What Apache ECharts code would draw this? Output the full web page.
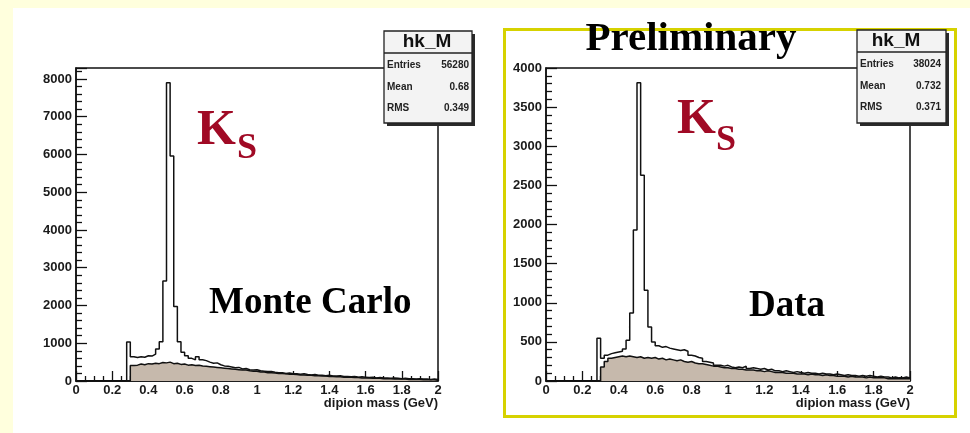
<!DOCTYPE html>
<html><head><meta charset="utf-8">
<script src="https://cdn.jsdelivr.net/npm/echarts@6/dist/echarts.min.js"></script>
<style>
html,body{margin:0;padding:0;background:#FFFFDD;width:970px;height:433px;overflow:hidden;}
#bg{position:absolute;left:13px;top:8px;width:957px;height:425px;background:#FFFFFF;}
#c{position:absolute;left:0;top:0;width:970px;height:433px;}
</style>
</head><body><div id="bg"></div><div id="c"></div>
<script>
// ---- histogram binning (GeV) ----
const binWidth = 0.02;
const firstFilledBin = 0.28;   // first non-empty bin lower edge
const nBins = 100;             // 0 .. 2 GeV

// ---- Monte Carlo panel: counts per bin from 0.28 to 1.98 ----
const mcTotal = [
  1030, 640, 620, 640, 630, 670, 660, 710, 850, 1040,
  2650, 7900, 5960, 1970, 1040, 760, 670, 600, 560, 640,
  560, 540, 500, 470, 480, 430, 400, 390, 370, 350,
  360, 320, 330, 300, 290, 300, 270, 260, 250, 250,
  230, 220, 220, 200, 210, 190, 190, 180, 190, 170,
  160, 170, 150, 150, 140, 150, 130, 130, 140, 120,
  120, 110, 120, 100, 110, 100, 90, 100, 80, 90,
  80, 80, 70, 80, 70, 60, 70, 60, 60, 50,
  60, 50, 50, 40, 50, 40
];
const mcBkg = [
  0, 410, 420, 450, 430, 460, 450, 470, 460, 490,
  480, 500, 460, 470, 440, 450, 420, 430, 410, 420,
  400, 390, 380, 370, 360, 350, 340, 330, 320, 310,
  300, 290, 290, 270, 260, 260, 240, 240, 220, 220,
  210, 200, 200, 190, 180, 180, 170, 160, 160, 150,
  150, 140, 140, 130, 130, 120, 120, 110, 110, 100,
  100, 100, 90, 90, 80, 80, 80, 70, 70, 70,
  60, 60, 60, 50, 50, 50, 50, 40, 40, 40,
  40, 30, 30, 30, 30, 30
];

// ---- Data panel: counts per bin from 0.28 to 1.98 ----
const dataTotal = [
  545, 290, 330, 350, 360, 370, 380, 410, 520, 870,
  1930, 3810, 2630, 1160, 690, 500, 450, 430, 440, 420,
  410, 400, 390, 400, 380, 330, 320, 300, 290, 250,
  240, 230, 200, 200, 190, 200, 180, 170, 180, 170,
  190, 160, 170, 160, 150, 160, 140, 150, 130, 130,
  120, 130, 120, 110, 120, 110, 100, 110, 100, 100,
  90, 100, 90, 90, 80, 90, 80, 70, 80, 70,
  70, 60, 70, 60, 70, 60, 50, 60, 50, 50,
  40, 50, 40, 40, 50, 40
];
const dataBkg = [
  0, 180, 250, 290, 300, 310, 320, 310, 320, 310,
  300, 310, 290, 300, 290, 300, 280, 290, 270, 280,
  270, 260, 270, 250, 240, 250, 230, 220, 220, 210,
  200, 190, 190, 180, 170, 170, 160, 160, 150, 150,
  140, 140, 140, 130, 130, 120, 130, 120, 110, 110,
  110, 100, 100, 100, 90, 90, 90, 80, 90, 80,
  80, 70, 80, 70, 70, 60, 60, 60, 50, 60,
  50, 50, 50, 40, 50, 40, 40, 40, 40, 30,
  30, 30, 30, 30, 30, 30
];

// ---- axis tick values ----
const xTickValues = [0, 0.2, 0.4, 0.6, 0.8, 1, 1.2, 1.4, 1.6, 1.8, 2];
const mcYTicks = [0, 1000, 2000, 3000, 4000, 5000, 6000, 7000, 8000];
const dataYTicks = [0, 500, 1000, 1500, 2000, 2500, 3000, 3500, 4000];
const mcYMax = 8290;
const dataYMax = 4000;

// ---- stats boxes ----
const mcStats = {title: 'hk_M', entries: '56280', mean: '0.68', rms: '0.349'};
const dataStats = {title: 'hk_M', entries: '38024', mean: '0.732', rms: '0.371'};

function toSteps(values) {
  const pts = [];
  const startIdx = Math.round(firstFilledBin / binWidth);
  for (let i = 0; i < startIdx; i++) pts.push([+(i * binWidth).toFixed(2), 0]);
  values.forEach((v, j) => pts.push([+((startIdx + j) * binWidth).toFixed(2), v]));
  pts.push([+(nBins * binWidth).toFixed(2), values[values.length - 1]]);
  return pts;
}

const labelFont = {fontFamily: 'Liberation Sans', fontWeight: 'bold', fontSize: 13, color: '#1a1a1a'};
function xAx(gi) {
  return {
    type: 'value', gridIndex: gi, min: 0, max: 2, interval: 0.2,
    axisLine: {show: true, lineStyle: {color: '#111', width: 1.5}},
    axisTick: {show: true, inside: true, length: 10, lineStyle: {color: '#111', width: 1.3}},
    minorTick: {show: true, splitNumber: 4, length: 5, lineStyle: {color: '#111', width: 1.3}},
    splitLine: {show: false},
    axisLabel: Object.assign({margin: 3, formatter: v => {
      const t = xTickValues.find(tv => Math.abs(tv - v) < 1e-6);
      return t === undefined ? '' : String(t);
    }}, labelFont)
  };
}
function yAx(gi, max, interval, ticks) {
  return {
    type: 'value', gridIndex: gi, min: 0, max: max, interval: interval,
    axisLine: {show: true, lineStyle: {color: '#111', width: 1.5}},
    axisTick: {show: true, inside: true, length: 11, lineStyle: {color: '#111', width: 1.3}},
    minorTick: {show: true, splitNumber: 5, length: 6, lineStyle: {color: '#111', width: 1.3}},
    splitLine: {show: false},
    axisLabel: Object.assign({margin: 4, showMaxLabel: ticks.indexOf(max) >= 0, formatter: v => {
      const t = ticks.find(tv => Math.abs(tv - v) < 1e-6);
      return t === undefined ? '' : String(t);
    }}, labelFont)
  };
}

const histLine = {color: '#111', width: 1.5};
const fillColor = '#C6B9AC';
function bkgSeries(gi, vals) {
  return {type: 'line', xAxisIndex: gi, yAxisIndex: gi, step: 'end', data: toSteps(vals),
    showSymbol: false, symbol: 'none', lineStyle: histLine, areaStyle: {color: fillColor, opacity: 1}, z: 2, silent: true};
}
function totSeries(gi, vals) {
  return {type: 'line', xAxisIndex: gi, yAxisIndex: gi, step: 'end', data: toSteps(vals),
    showSymbol: false, symbol: 'none', lineStyle: histLine, z: 3, silent: true};
}

function statsBox(x, y, w, h, titleCx, rightX, s) {
  const smallFont = 'bold 10px "Liberation Sans"';
  return {
    type: 'group', z: 100, children: [
      {type: 'rect', shape: {x: x + 3, y: y + 3, width: w, height: h}, style: {fill: '#2a2a2a'}, z: 100},
      {type: 'rect', shape: {x: x, y: y, width: w, height: h}, style: {fill: '#F3F3F3', stroke: '#222', lineWidth: 1.3}, z: 101},
      {type: 'line', shape: {x1: x, y1: y + 22, x2: x + w, y2: y + 22}, style: {stroke: '#222', lineWidth: 1.5}, z: 102},
      {type: 'text', x: titleCx, y: y + 11, z: 103, style: {text: s.title, font: 'bold 19px "Liberation Sans"', fill: '#111', align: 'center', verticalAlign: 'middle'}},
      {type: 'text', x: x + 3, y: y + 34, z: 103, style: {text: 'Entries', font: smallFont, fill: '#222', align: 'left', verticalAlign: 'middle'}},
      {type: 'text', x: rightX, y: y + 34, z: 103, style: {text: s.entries, font: smallFont, fill: '#222', align: 'right', verticalAlign: 'middle'}},
      {type: 'text', x: x + 3, y: y + 56, z: 103, style: {text: 'Mean', font: smallFont, fill: '#222', align: 'left', verticalAlign: 'middle'}},
      {type: 'text', x: rightX, y: y + 56, z: 103, style: {text: s.mean, font: smallFont, fill: '#222', align: 'right', verticalAlign: 'middle'}},
      {type: 'text', x: x + 3, y: y + 77, z: 103, style: {text: 'RMS', font: smallFont, fill: '#222', align: 'left', verticalAlign: 'middle'}},
      {type: 'text', x: rightX, y: y + 77, z: 103, style: {text: s.rms, font: smallFont, fill: '#222', align: 'right', verticalAlign: 'middle'}}
    ]
  };
}

const serifBold = '"Liberation Serif", "Times New Roman", serif';
const ksColor = '#A00A25';
function txt(x, y, text, size, color, align) {
  return {type: 'text', x: x, y: y, z: 110, style: {text: text, font: 'bold ' + size + 'px ' + serifBold, fill: color, align: align || 'left', verticalAlign: 'middle'}};
}
function axisTitle(rx, y) {
  return {type: 'text', x: rx, y: y, z: 110, style: {text: 'dipion mass (GeV)', font: 'bold 13px "Liberation Sans"', fill: '#1a1a1a', align: 'right', verticalAlign: 'middle'}};
}

const chart = echarts.init(document.getElementById('c'), null, {renderer: 'canvas'});
chart.setOption({
  animation: false,
  backgroundColor: 'transparent',
  grid: [
    {left: 76, top: 68, width: 362, height: 313, show: true, borderColor: '#111', borderWidth: 1.5, backgroundColor: 'transparent', containLabel: false, outerBoundsMode: 'none'},
    {left: 546, top: 68, width: 364, height: 313, show: true, borderColor: '#111', borderWidth: 1.5, backgroundColor: 'transparent', containLabel: false, outerBoundsMode: 'none'}
  ],
  xAxis: [xAx(0), xAx(1)],
  yAxis: [yAx(0, mcYMax, 1000, mcYTicks), yAx(1, dataYMax, 500, dataYTicks)],
  series: [
    bkgSeries(0, mcBkg), totSeries(0, mcTotal),
    bkgSeries(1, dataBkg), totSeries(1, dataTotal)
  ],
  graphic: [
    {type: 'rect', z: 90, shape: {x: 504.5, y: 29.5, width: 451, height: 387}, style: {fill: 'none', stroke: '#D6D200', lineWidth: 3}},
    statsBox(384, 31, 88, 92, 427, 469, mcStats),
    statsBox(857, 30, 89, 93, 896, 941, dataStats),
    txt(197, 131, 'K', 50, ksColor),
    txt(237, 149, 'S', 36, ksColor),
    txt(677, 120, 'K', 50, ksColor),
    txt(716, 141, 'S', 36, ksColor),
    txt(209, 303, 'Monte Carlo', 37, '#000'),
    txt(749, 306, 'Data', 37, '#000'),
    txt(691, 39, 'Preliminary', 41, '#000', 'center'),
    axisTitle(438, 403),
    axisTitle(910, 403)
  ]
});
</script>
</body></html>
